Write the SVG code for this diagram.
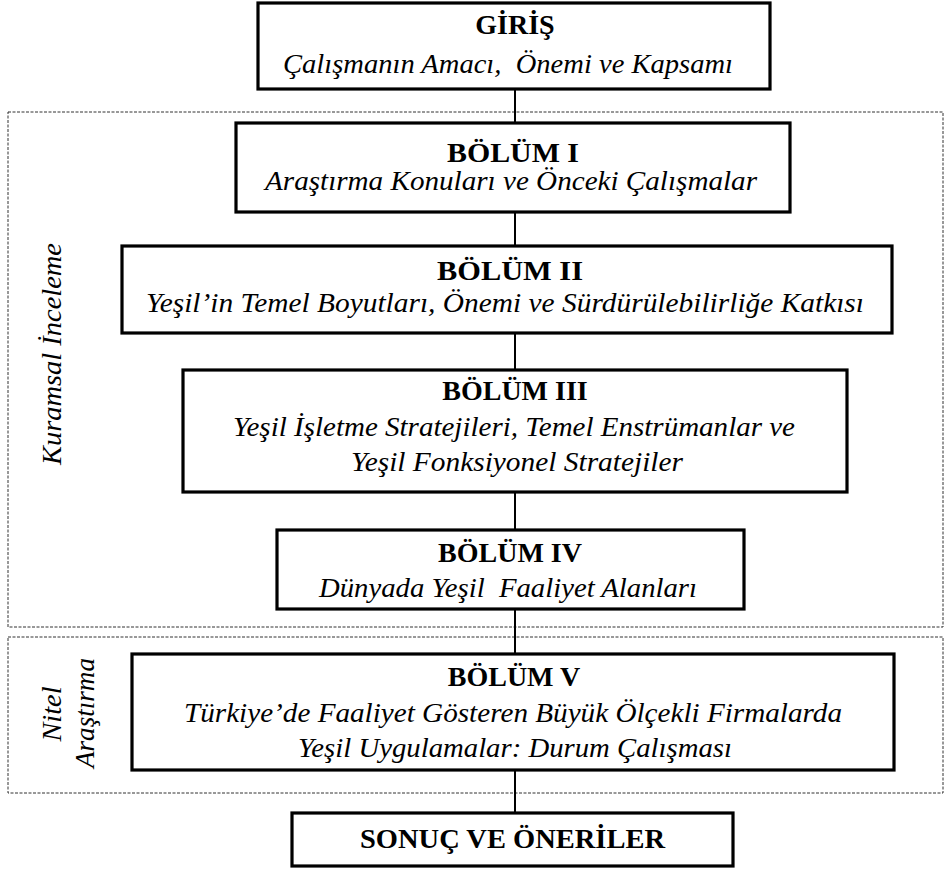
<svg xmlns="http://www.w3.org/2000/svg" width="944" height="870" viewBox="0 0 944 870">
  <style>
    .box { fill: #ffffff; stroke: #000000; stroke-width: 3.2; }
    .zone { fill: none; stroke: #333333; stroke-width: 1; stroke-dasharray: 3 1.5; }
    .link { stroke: #000000; stroke-width: 2; fill: none; }
    .title { font-family: "Liberation Serif", "Times New Roman", serif; font-weight: bold; font-size: 28px; fill: #000; text-anchor: middle; }
    .sub { font-family: "Liberation Serif", "Times New Roman", serif; font-style: italic; font-size: 27px; fill: #000; text-anchor: middle; white-space: pre; }
    .side { font-family: "Liberation Serif", "Times New Roman", serif; font-style: italic; font-size: 27px; fill: #000; text-anchor: middle; }
  </style>

  <rect width="944" height="870" fill="#ffffff"/>

  <!-- dashed grouping zones with their rotated captions -->
  <g id="zones">
    <rect class="zone" x="8" y="112" width="935" height="515"/>
    <rect class="zone" x="8" y="637" width="935" height="156"/>
    <text class="side" transform="translate(61,354) rotate(-90)" textLength="222" lengthAdjust="spacingAndGlyphs">Kuramsal İnceleme</text>
    <text class="side" transform="translate(61,714) rotate(-90)" textLength="55" lengthAdjust="spacingAndGlyphs">Nitel</text>
    <text class="side" transform="translate(94,713) rotate(-90)" textLength="110" lengthAdjust="spacingAndGlyphs">Araştırma</text>
  </g>

  <!-- vertical connectors between sections -->
  <g id="connectors">
    <line class="link" x1="515" y1="89" x2="515" y2="123"/>
    <line class="link" x1="515" y1="212" x2="515" y2="246"/>
    <line class="link" x1="515" y1="333" x2="515" y2="370"/>
    <line class="link" x1="515" y1="492" x2="515" y2="530"/>
    <line class="link" x1="515" y1="609" x2="515" y2="654"/>
    <line class="link" x1="515" y1="770" x2="515" y2="813"/>
  </g>

  <g id="giris">
    <rect class="box" x="258" y="3" width="512" height="86"/>
    <text class="title" x="515" y="34">GİRİŞ</text>
    <text class="sub" x="508" y="73" textLength="450" lengthAdjust="spacingAndGlyphs">Çalışmanın Amacı,  Önemi ve Kapsamı</text>
  </g>

  <g id="bolum1">
    <rect class="box" x="236" y="123" width="554" height="89"/>
    <text class="title" x="513" y="162" textLength="132" lengthAdjust="spacingAndGlyphs">BÖLÜM I</text>
    <text class="sub" x="511" y="190" textLength="492" lengthAdjust="spacingAndGlyphs">Araştırma Konuları ve Önceki Çalışmalar</text>
  </g>

  <g id="bolum2">
    <rect class="box" x="122" y="246" width="770" height="87"/>
    <text class="title" x="510" y="280" textLength="146" lengthAdjust="spacingAndGlyphs">BÖLÜM II</text>
    <text class="sub" x="505" y="312" textLength="718" lengthAdjust="spacingAndGlyphs">Yeşil’in Temel Boyutları, Önemi ve Sürdürülebilirliğe Katkısı</text>
  </g>

  <g id="bolum3">
    <rect class="box" x="183" y="370" width="664" height="122"/>
    <text class="title" x="515" y="400">BÖLÜM III</text>
    <text class="sub" x="514" y="436" textLength="562" lengthAdjust="spacingAndGlyphs">Yeşil İşletme Stratejileri, Temel Enstrümanlar ve</text>
    <text class="sub" x="517" y="471" textLength="332" lengthAdjust="spacingAndGlyphs">Yeşil Fonksiyonel Stratejiler</text>
  </g>

  <g id="bolum4">
    <rect class="box" x="277" y="530" width="467" height="79"/>
    <text class="title" x="510" y="562">BÖLÜM IV</text>
    <text class="sub" x="508" y="597" textLength="378" lengthAdjust="spacingAndGlyphs">Dünyada Yeşil  Faaliyet Alanları</text>
  </g>

  <g id="bolum5">
    <rect class="box" x="132" y="654" width="762" height="116"/>
    <text class="title" x="514" y="686">BÖLÜM V</text>
    <text class="sub" x="513" y="722" textLength="658" lengthAdjust="spacingAndGlyphs">Türkiye’de Faaliyet Gösteren Büyük Ölçekli Firmalarda</text>
    <text class="sub" x="515" y="757" textLength="434" lengthAdjust="spacingAndGlyphs">Yeşil Uygulamalar: Durum Çalışması</text>
  </g>

  <g id="sonuc">
    <rect class="box" x="292" y="813" width="441" height="53"/>
    <text class="title" x="512.5" y="848" textLength="305" lengthAdjust="spacingAndGlyphs">SONUÇ VE ÖNERİLER</text>
  </g>
</svg>
